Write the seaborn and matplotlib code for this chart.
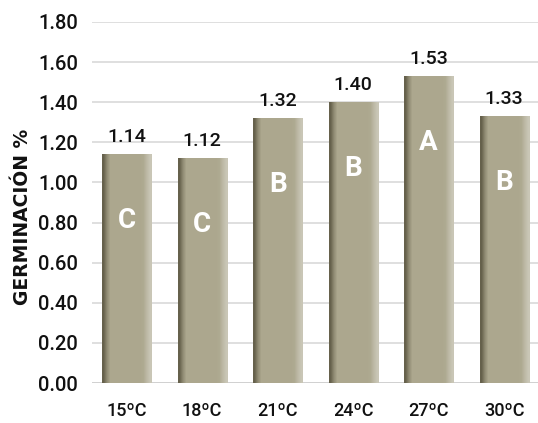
import numpy as np
import pandas as pd
import matplotlib
matplotlib.use('Agg')
import matplotlib.pyplot as plt
from matplotlib import font_manager
import seaborn as sns

temps = ['15ºC', '18ºC', '21ºC', '24ºC', '27ºC', '30ºC']
germinacion = [1.14, 1.12, 1.32, 1.40, 1.53, 1.33]
grupos = ['C', 'C', 'B', 'B', 'A', 'B']
yticks = [0.00, 0.20, 0.40, 0.60, 0.80, 1.00, 1.20, 1.40, 1.60, 1.80]

sns.set_theme(style='white')
names = {f.name for f in font_manager.fontManager.ttflist}
narrow = 'Liberation Sans Narrow' if 'Liberation Sans Narrow' in names else 'Roboto'
plt.rcParams['font.family'] = [narrow, 'DejaVu Sans']

df = pd.DataFrame({'temp': temps, 'germ': germinacion, 'grupo': grupos})

fig = plt.figure(figsize=(5.38, 4.23), dpi=100)
ax = fig.add_axes([92 / 538, 40 / 423, 446 / 538, 361 / 423])

sns.barplot(data=df, x='temp', y='germ', color='#aca78e', width=0.65,
            saturation=1, ax=ax, zorder=2)

# sombreado de las barras: borde izquierdo oscuro, derecho claro
cmap = matplotlib.colors.LinearSegmentedColormap.from_list(
    'khaki', ['#66614c', '#aca78e', '#c9c6b6'])
g = np.array([[0.0, 0.3, 0.5, 0.5, 0.5, 0.5, 0.5, 0.5, 0.5, 0.5, 0.5, 0.5, 0.55, 0.8, 1.0]])
for p in ax.patches:
    x0, y0 = p.get_x(), p.get_y()
    w, h = p.get_width(), p.get_height()
    im = ax.imshow(g, cmap=cmap, vmin=0, vmax=1, aspect='auto', interpolation='bilinear',
                   extent=[x0, x0 + w, y0, y0 + h], zorder=2.5)
    im.set_clip_path(p)
    p.set_edgecolor('none')

for i, (v, gr) in enumerate(zip(germinacion, grupos)):
    ax.annotate(f'{v:.2f}', (i, v), xytext=(0, 6), textcoords='offset points',
                ha='center', va='bottom', fontsize=14, fontweight='medium', color='#111111')
    ax.text(i, v - 0.33, gr, ha='center', va='center', fontsize=20,
            fontweight='bold', color='white', zorder=4)

ax.set_xlim(-0.46, 5.45)
ax.set_ylim(0, 1.8)
ax.set_yticks(yticks)
ax.set_yticklabels([f'{t:.2f}' for t in yticks], fontsize=14.5, fontweight='medium', color='#111111')
ax.set_xticks(range(len(temps)))
ax.set_xticklabels(temps, fontsize=13, fontweight='medium', color='#111111')
ax.tick_params(axis='x', length=0, pad=14)
ax.tick_params(axis='y', length=0, pad=10)
ax.yaxis.grid(True, color='#d9d9d9', linewidth=1.2, zorder=0)
ax.set_axisbelow(True)
for s in ax.spines.values():
    s.set_visible(False)
ax.axhline(0, color='#cfcfcf', linewidth=1.2, zorder=1)

ax.set_xlabel('')
ax.set_ylabel('GERMINACIÓN %', fontsize=13.5, fontweight='bold',
              family=['DejaVu Sans'], color='#111111')
ax.yaxis.set_label_coords(-0.135, 0.46)

fig.savefig('out.png', dpi=100)
